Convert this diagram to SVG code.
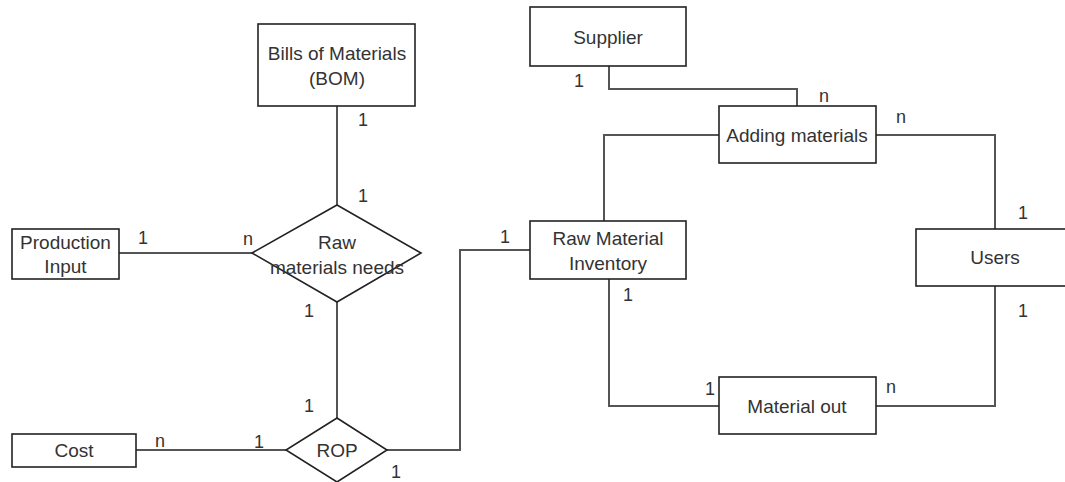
<svg xmlns="http://www.w3.org/2000/svg" width="1065" height="482" viewBox="0 0 1065 482">
<style>
.box{fill:#fff;stroke:#222;stroke-width:1.6}
.conn{fill:none;stroke:#555;stroke-width:2}
.t{font-family:"Liberation Sans",Arial,sans-serif;font-size:19px;fill:#333;text-anchor:middle}
.c{font-family:"Liberation Sans",Arial,sans-serif;font-size:18px;fill:#333;text-anchor:middle}
</style>
<rect width="1065" height="482" fill="#fff"/>
<g id="connectors">
<path class="conn" d="M337,106 V205"/>
<path class="conn" d="M119,253 H252"/>
<path class="conn" d="M337,302 V418"/>
<path class="conn" d="M136,450 H286"/>
<path class="conn" d="M387,450 H460 V250 H530"/>
<path class="conn" d="M609,66 V89 H797 V106"/>
<path class="conn" d="M719,135 H604 V221"/>
<path class="conn" d="M876,135 H995 V229"/>
<path class="conn" d="M609,279 V406 H719"/>
<path class="conn" d="M876,406 H995 V286"/>
</g>
<g id="labels">
<text class="c" x="363" y="126">1</text>
<text class="c" x="363" y="202">1</text>
<text class="c" x="143" y="244">1</text>
<text class="c" x="248" y="245">n</text>
<text class="c" x="309" y="317">1</text>
<text class="c" x="309" y="412">1</text>
<text class="c" x="160" y="447">n</text>
<text class="c" x="259" y="448">1</text>
<text class="c" x="396" y="478">1</text>
<text class="c" x="505" y="243">1</text>
<text class="c" x="579" y="87">1</text>
<text class="c" x="824" y="102">n</text>
<text class="c" x="901" y="123">n</text>
<text class="c" x="1023" y="219">1</text>
<text class="c" x="628" y="301">1</text>
<text class="c" x="710" y="395">1</text>
<text class="c" x="891" y="393">n</text>
<text class="c" x="1023" y="317">1</text>
</g>
<g id="bom">
<rect class="box" x="258" y="24" width="157" height="82"/>
<text class="t" x="337" y="60">Bills of Materials</text>
<text class="t" x="337" y="85">(BOM)</text>
</g>
<g id="production-input">
<rect class="box" x="12" y="229" width="107" height="50"/>
<text class="t" x="65.5" y="249">Production</text>
<text class="t" x="65.5" y="273">Input</text>
</g>
<g id="cost">
<rect class="box" x="12" y="434" width="124" height="33"/>
<text class="t" x="74" y="457">Cost</text>
</g>
<g id="raw-materials-needs">
<polygon class="box" points="337,205 421,253 337,302 252,253"/>
<text class="t" x="337" y="249">Raw</text>
<text class="t" x="337" y="274">materials needs</text>
</g>
<g id="rop">
<polygon class="box" points="337,418 387,450 337,482 286,450"/>
<text class="t" x="337" y="457">ROP</text>
</g>
<g id="supplier">
<rect class="box" x="530" y="7" width="156" height="59"/>
<text class="t" x="608" y="44">Supplier</text>
</g>
<g id="adding-materials">
<rect class="box" x="719" y="106" width="157" height="57"/>
<text class="t" x="797" y="142">Adding materials</text>
</g>
<g id="raw-material-inventory">
<rect class="box" x="530" y="221" width="156" height="58"/>
<text class="t" x="608" y="245">Raw Material</text>
<text class="t" x="608" y="270">Inventory</text>
</g>
<g id="users">
<rect class="box" x="916" y="229" width="158" height="57"/>
<text class="t" x="995" y="264">Users</text>
</g>
<g id="material-out">
<rect class="box" x="719" y="377" width="157" height="57"/>
<text class="t" x="797" y="413">Material out</text>
</g>
</svg>
